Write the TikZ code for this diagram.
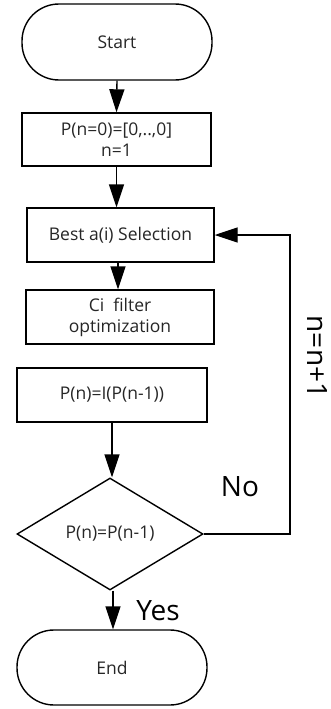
\documentclass[tikz,border=0pt]{standalone}
\usepackage{fontspec}
\setmainfont{Open Sans}
\usetikzlibrary{shapes.geometric,arrows.meta}
\begin{document}
\begin{tikzpicture}[x=1pt,y=-1pt,
  every node/.style={font=\fontsize{17.5}{21}\selectfont, text=black!85},
  box/.style={draw, line width=1.4pt, inner sep=0pt, align=center},
  term/.style={box, rounded corners=37pt},
  dec/.style={box, diamond, aspect=1.66},
  lbl/.style={font=\fontsize{28}{32}\selectfont, text=black},
  arr/.style={line width=1.4pt, -{Triangle[length=23pt,width=15pt]}}]
\useasboundingbox (0,0) rectangle (330,709);
\node[term, minimum width=190pt, minimum height=76pt] (start) at (117,42) {Start};
\node[box, minimum width=189pt, minimum height=53pt] (init) at (116.5,139.5) {P(n=0)=[0,..,0]\\n=1};
\node[box, minimum width=187pt, minimum height=54pt] (best) at (120.5,235) {Best a(i) Selection};
\node[box, minimum width=188pt, minimum height=54pt] (ci) at (120,317) {Ci\ \ filter\\optimization};
\node[box, minimum width=190pt, minimum height=54pt] (pn) at (112,395) {P(n)=I(P(n-1))};
\node[dec, minimum width=186pt, minimum height=112pt] (dec) at (110,534) {P(n)=P(n-1)};
\node[term, minimum width=190pt, minimum height=75pt] (end) at (112,667.5) {End};
\coordinate (corner) at (290,534);
\draw[arr] (start.south) -- (init.north);
\draw[arr] (init.south) -- (init.south |- best.north);
\draw[arr] (best.south -| 118,0) -- (ci.north -| 118,0);
\draw[arr] (pn.south) -- (pn.south |- dec.north);
\draw[arr] (dec.south -| 113,0) -- (end.north -| 113,0);
\draw[arr] (dec.east) -- (corner) |- (best.east);
\node[lbl] (no) at (240,487) {No};
\node[lbl] (yes) at (158,611) {Yes};
\node[lbl, rotate=-90] (inc) at (317,357) {n=n+1};
\end{tikzpicture}
\end{document}
